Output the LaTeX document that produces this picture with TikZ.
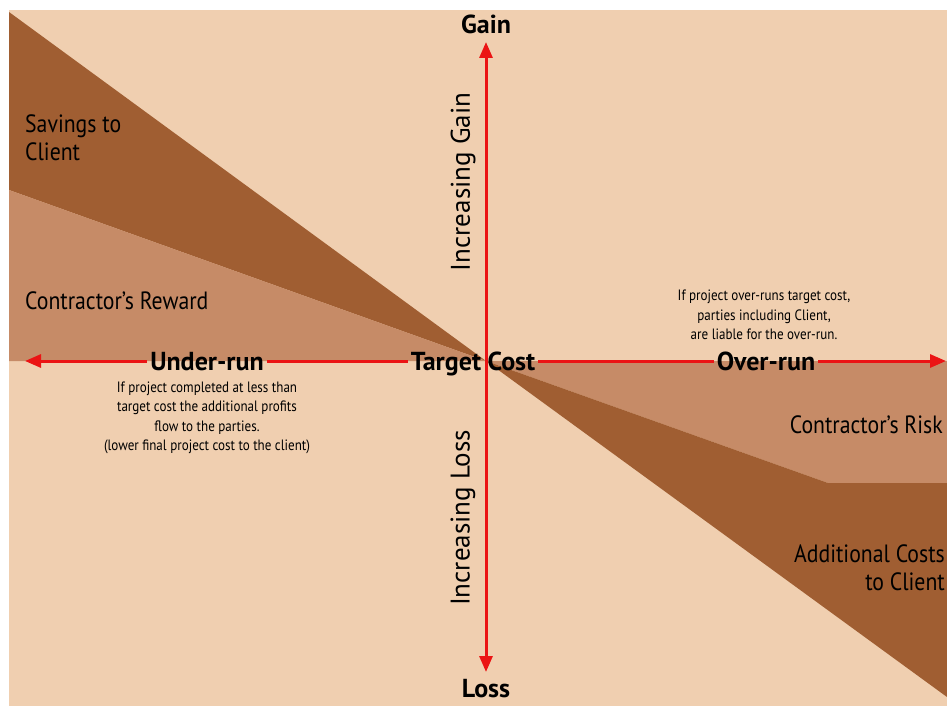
\documentclass[tikz,border=0pt]{standalone}
\usepackage{fontspec}
\setmainfont{PT Sans}
\newfontfamily\narrowfont{PT Sans}[FakeStretch=0.87]
\usetikzlibrary{arrows.meta}
\definecolor{bgtan}{RGB}{240,207,176}
\definecolor{midbrown}{RGB}{198,139,103}
\definecolor{darkbrown}{RGB}{160,94,50}
\definecolor{axisred}{RGB}{235,20,20}

\begin{document}
\begin{tikzpicture}[x=1pt,y=-1pt]
    \tikzstyle{axis}=[axisred,line width=3pt,-{Triangle[length=16pt,width=13pt]}];
    \tikzstyle{axisline}=[axisred,line width=3pt];
    \tikzstyle{axislabel}=[font=\bfseries\fontsize{26}{28}\selectfont,inner sep=3pt,text height=18pt,text depth=0pt];
    \tikzstyle{area}=[font=\narrowfont\fontsize{25}{28}\selectfont,inner sep=0pt];
    \tikzstyle{trend}=[font=\fontsize{27}{30}\selectfont,inner sep=0pt,rotate=90];
    \tikzstyle{note}=[font=\narrowfont\fontsize{15}{19.5}\selectfont,align=center,inner sep=0pt];

    \useasboundingbox (0,0) rectangle (947,706);
    \fill[white] (0,0) rectangle (947,706);
    \fill[bgtan] (9,10) rectangle (947,706);

    \coordinate (o) at (486,361);
    \fill[darkbrown] (9,12) -- (o) -- (9,190) -- cycle;
    \fill[midbrown] (9,190) -- (o) -- (9,361) -- cycle;
    \fill[midbrown] (o) -- (947,361) -- (947,483) -- (828,483) -- cycle;
    \fill[darkbrown] (o) -- (828,483) -- (947,483) -- (947,697) -- cycle;

    \node[axislabel] (gain) at (486,25) {Gain};
    \node[axislabel] (loss) at (486,688) {Loss};
    \node[axislabel] (under) at (207,361) {Under-run};
    \node[axislabel] (target) at (473,361) {Target Cost};
    \node[axislabel] (over) at (766,361) {Over-run};

    \coordinate (top) at (486,42);
    \coordinate (bot) at (486,672);
    \coordinate (west) at (25,361);
    \coordinate (east) at (946,361);

    \draw[axis] (o) -- (top);
    \draw[axis] (o) -- (bot);
    \draw[axis] (under.west) -- (west);
    \draw[axisline] (under.east) -- (target.west);
    \draw[axisline] (target.east) -- (over.west);
    \draw[axis] (over.east) -- (east);

    \node[area,anchor=west,align=left] (savings) at (25,138) {Savings to\\Client};
    \node[area,anchor=west] (reward) at (25,301) {Contractor’s Reward};
    \node[area,anchor=east] (risk) at (943,425) {Contractor’s Risk};
    \node[area,anchor=east,align=right] (costs) at (945,568) {Additional Costs\\to Client};

    \node[trend] (incgain) at (463,182) {Increasing Gain};
    \node[trend] (incloss) at (463,518) {Increasing Loss};

    \node[note] (overnote) at (764,315) {If project over-runs target cost,\\parties including Client,\\are liable for the over-run.};
    \node[note] (undernote) at (207,418) {If project completed at less than\\target cost the additional profits\\flow to the parties.\\(lower final project cost to the client)};
\end{tikzpicture}
\end{document}
